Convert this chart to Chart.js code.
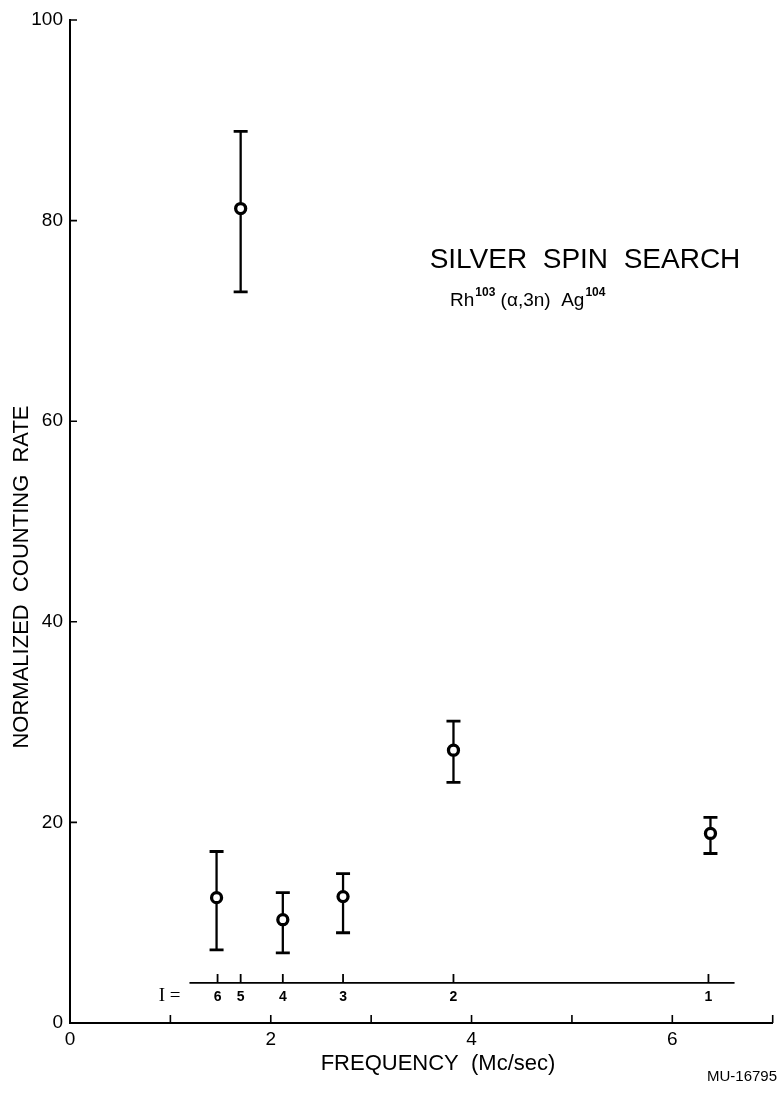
<!DOCTYPE html>
<html>
<head>
<meta charset="utf-8">
<script src="https://cdn.jsdelivr.net/npm/chart.js@4.4.0/dist/chart.umd.min.js"></script>
<style>
  html, body { margin: 0; padding: 0; background: #fff; }
  #wrap { width: 781px; height: 1094px; }
</style>
</head>
<body>
<div id="wrap"><canvas id="c" width="781" height="1094"></canvas></div>
<script>
// measured points (frequency in Mc/sec, normalized counting rate)
var freq   = [1.46, 1.70, 2.12, 2.72, 3.82, 6.38];
var rate   = [12.5, 81.2, 10.3, 12.6, 27.2, 18.9];
var rateHi = [17.1, 88.9, 13.0, 14.9, 30.1, 20.5];
var rateLo = [7.3, 72.9, 7.0, 9.0, 24.0, 16.9];

// spin scale (I = ...) marks
var spinFreq   = [1.47, 1.70, 2.12, 2.72, 3.82, 6.36];
var spinLabels = ['6', '5', '4', '3', '2', '1'];
var spinAxisRate = 4;          // height of the I scale, in counting rate units
var spinAxisFrom = 1.19, spinAxisTo = 6.62;

// axis tick labels
var xTickLabels = ['0', '', '2', '', '4', '', '6', ''];
var yTickLabels = ['0', '20', '40', '60', '80', '100'];

var FONT = '"Liberation Sans", Arial, Helvetica, sans-serif';

var inkPlugin = {
  id: 'ink',
  beforeDatasetsDraw: function (chart) {
    // error bars go under the circles
    var ctx = chart.ctx, xs = chart.scales.x, ys = chart.scales.y;
    ctx.save();
    ctx.strokeStyle = '#000';
    ctx.lineCap = 'butt';
    for (var i = 0; i < freq.length; i++) {
      var px = xs.getPixelForValue(freq[i]);
      var top = ys.getPixelForValue(rateHi[i]);
      var bot = ys.getPixelForValue(rateLo[i]);
      ctx.lineWidth = 2.3;
      ctx.beginPath();
      ctx.moveTo(px, top); ctx.lineTo(px, bot);
      ctx.stroke();
      ctx.lineWidth = 2.8;
      ctx.beginPath();
      ctx.moveTo(px - 7, top); ctx.lineTo(px + 7, top);
      ctx.moveTo(px - 7, bot); ctx.lineTo(px + 7, bot);
      ctx.stroke();
    }
    ctx.restore();
  },
  afterDraw: function (chart) {
    var ctx = chart.ctx, xs = chart.scales.x, ys = chart.scales.y;
    var area = chart.chartArea;
    ctx.save();
    ctx.strokeStyle = '#000';
    ctx.fillStyle = '#000';

    // inward tick marks
    ctx.lineWidth = 1.6;
    ctx.beginPath();
    xs.ticks.forEach(function (t) {
      var px = xs.getPixelForValue(t.value);
      ctx.moveTo(px, area.bottom); ctx.lineTo(px, area.bottom - 8);
    });
    ys.ticks.forEach(function (t) {
      var py = ys.getPixelForValue(t.value);
      ctx.moveTo(area.left, py); ctx.lineTo(area.left + 7, py);
    });
    ctx.stroke();

    // x tick labels (drawn here so the axis keeps its full width)
    ctx.font = '19px ' + FONT;
    ctx.textAlign = 'center';
    ctx.textBaseline = 'middle';
    xs.ticks.forEach(function (t) {
      var lbl = xTickLabels[t.value];
      if (lbl) ctx.fillText(lbl, xs.getPixelForValue(t.value), area.bottom + 17);
    });

    // I = spin scale
    var sy = ys.getPixelForValue(spinAxisRate);
    ctx.lineWidth = 1.8;
    ctx.beginPath();
    ctx.moveTo(xs.getPixelForValue(spinAxisFrom), sy);
    ctx.lineTo(xs.getPixelForValue(spinAxisTo), sy);
    spinFreq.forEach(function (f) {
      var px = xs.getPixelForValue(f);
      ctx.moveTo(px, sy); ctx.lineTo(px, sy - 9);
    });
    ctx.stroke();
    ctx.font = 'bold 14px ' + FONT;
    spinFreq.forEach(function (f, i) {
      ctx.fillText(spinLabels[i], xs.getPixelForValue(f), sy + 14);
    });
    ctx.font = '19px "Liberation Serif", "Times New Roman", serif';
    ctx.textAlign = 'right';
    ctx.fillText('I =', xs.getPixelForValue(spinAxisFrom) - 9, sy + 13);

    // axis titles
    ctx.font = '22px ' + FONT;
    ctx.textAlign = 'center';
    ctx.save();
    ctx.translate(22, 577);
    ctx.rotate(-Math.PI / 2);
    ctx.fillText('NORMALIZED  COUNTING  RATE', 0, 0);
    ctx.restore();
    ctx.fillText('FREQUENCY  (Mc/sec)', 438, 1064);

    // figure title
    ctx.font = '28px ' + FONT;
    ctx.textBaseline = 'alphabetic';
    ctx.fillText('SILVER  SPIN  SEARCH', 585, 268);

    // reaction label with superscripts
    var parts = [['Rh', 0], ['103', 1], [' (\u03b1,3n)  Ag', 0], ['104', 1]];
    var x0 = 450, base = 306;
    ctx.textAlign = 'left';
    parts.forEach(function (p) {
      ctx.font = p[1] ? 'bold 12px ' + FONT : '19px ' + FONT;
      var dx = p[1] ? 1 : 0;
      ctx.fillText(p[0], x0 + dx, p[1] ? base - 10 : base);
      x0 += ctx.measureText(p[0]).width + dx;
    });

    // drawing number
    ctx.font = '15px ' + FONT;
    ctx.textAlign = 'right';
    ctx.fillText('MU-16795', 777, 1081);
    ctx.restore();
  }
};

var points = freq.map(function (f, i) { return { x: f, y: rate[i] }; });

new Chart(document.getElementById('c'), {
  type: 'scatter',
  data: {
    datasets: [{
      data: points,
      pointStyle: 'circle',
      pointRadius: 5,
      pointBorderWidth: 3.3,
      pointBackgroundColor: '#fff',
      pointBorderColor: '#000',
      pointHoverRadius: 5
    }]
  },
  options: {
    responsive: false,
    animation: false,
    devicePixelRatio: 1,
    layout: { padding: { top: 20, right: 0, left: 0, bottom: 0 } },
    plugins: { legend: { display: false }, tooltip: { enabled: false } },
    scales: {
      x: {
        type: 'linear',
        min: 0, max: 7,
        afterFit: function (s) { s.height = 71; },
        grid: { drawOnChartArea: false, drawTicks: false },
        border: { display: true, color: '#000', width: 2 },
        ticks: { stepSize: 1, autoSkip: false, display: false }
      },
      y: {
        type: 'linear',
        min: 0, max: 100,
        afterFit: function (s) { s.width = 70; },
        grid: { drawOnChartArea: false, drawTicks: false },
        border: { display: true, color: '#000', width: 2 },
        ticks: {
          stepSize: 20,
          autoSkip: false,
          padding: 7,
          color: '#000',
          font: { family: FONT, size: 19 },
          callback: function (v) { return yTickLabels[v / 20]; }
        }
      }
    }
  },
  plugins: [inkPlugin]
});
</script>
</body>
</html>
